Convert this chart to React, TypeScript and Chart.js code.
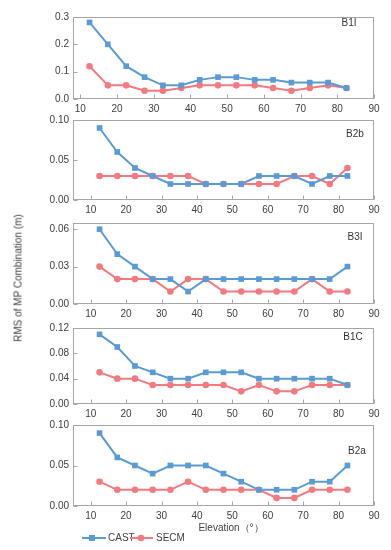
import React, { useEffect, useRef } from "react";
import { Chart, registerables } from "chart.js";

Chart.register(...registerables);

// ---------- data ----------
const elevations = [12.5, 17.5, 22.5, 27.5, 32.5, 37.5, 42.5, 47.5, 52.5, 57.5, 62.5, 67.5, 72.5, 77.5, 82.5];
const seriesNames = ["CAST", "SECM"];
const panelNames = ["B1I", "B2b", "B3I", "B1C", "B2a"];

const castB1I = [0.28, 0.2, 0.12, 0.08, 0.05, 0.05, 0.07, 0.08, 0.08, 0.07, 0.07, 0.06, 0.06, 0.06, 0.04];
const secmB1I = [0.12, 0.05, 0.05, 0.03, 0.03, 0.04, 0.05, 0.05, 0.05, 0.05, 0.04, 0.03, 0.04, 0.05, 0.04];

const castB2b = [0.09, 0.06, 0.04, 0.03, 0.02, 0.02, 0.02, 0.02, 0.02, 0.03, 0.03, 0.03, 0.02, 0.03, 0.03];
const secmB2b = [0.03, 0.03, 0.03, 0.03, 0.03, 0.03, 0.02, 0.02, 0.02, 0.02, 0.02, 0.03, 0.03, 0.02, 0.04];

const castB3I = [0.06, 0.04, 0.03, 0.02, 0.02, 0.01, 0.02, 0.02, 0.02, 0.02, 0.02, 0.02, 0.02, 0.02, 0.03];
const secmB3I = [0.03, 0.02, 0.02, 0.02, 0.01, 0.02, 0.02, 0.01, 0.01, 0.01, 0.01, 0.01, 0.02, 0.01, 0.01];

const castB1C = [0.11, 0.09, 0.06, 0.05, 0.04, 0.04, 0.05, 0.05, 0.05, 0.04, 0.04, 0.04, 0.04, 0.04, 0.03];
const secmB1C = [0.05, 0.04, 0.04, 0.03, 0.03, 0.03, 0.03, 0.03, 0.02, 0.03, 0.02, 0.02, 0.03, 0.03, 0.03];

const castB2a = [0.09, 0.06, 0.05, 0.04, 0.05, 0.05, 0.05, 0.04, 0.03, 0.02, 0.02, 0.02, 0.03, 0.03, 0.05];
const secmB2a = [0.03, 0.02, 0.02, 0.02, 0.02, 0.03, 0.02, 0.02, 0.02, 0.02, 0.01, 0.01, 0.02, 0.02, 0.02];

const castSeries = [castB1I, castB2b, castB3I, castB1C, castB2a];
const secmSeries = [secmB1I, secmB2b, secmB3I, secmB1C, secmB2a];

const yMaxes = [0.3, 0.1, 0.065, 0.12, 0.1];
const ySteps = [0.1, 0.05, 0.03, 0.04, 0.05];
const yDecimals = [1, 2, 2, 2, 2];
const xMins = [8, 5, 5, 5, 5];
const xMax = 90;
const xStep = 10;

const yTitle = "RMS of MP Combination (m)";
const xTitle = "Elevation（°）";

// ---------- style / layout ----------
const W = 391;
const H = 550;
const FONT = "'Liberation Sans', Arial, sans-serif";
const BLUE = "#5b9bd5";
const RED = "#f47a7f";
const FRAME = "#a6a6a6";
const TEXT = "#404040";
const FRAME_LEFT = 73;
const FRAME_RIGHT = 374;
const TOP_PAD = 10;

const frames = [
  { top: 17, bottom: 99, label: { dx: 25, dy: 6 } },
  { top: 120, bottom: 200, label: { dx: 19, dy: 14 } },
  { top: 223, bottom: 304, label: { dx: 19, dy: 14 } },
  { top: 328, bottom: 404, label: { dx: 21, dy: 9 } },
  { top: 425, bottom: 506, label: { dx: 17, dy: 26 } },
];

function Panel({ index }: { index: number }) {
  const ref = useRef<HTMLCanvasElement | null>(null);
  const isLast = index === frames.length - 1;
  const fr = frames[index];
  const canvasTop = fr.top - TOP_PAD;
  const xAxisH = isLast ? H - fr.bottom : 22;
  const canvasH = fr.bottom - canvasTop + xAxisH;

  useEffect(() => {
    if (!ref.current) return;
    const toPts = (arr: number[]) => arr.map((v, i) => ({ x: elevations[i], y: v }));

    const framePlugin = {
      id: "frameTicks",
      beforeDatasetsDraw(chart: any) {
        const { ctx, chartArea } = chart;
        const l = Math.round(chartArea.left) + 0.5;
        const r = Math.round(chartArea.right) - 0.5;
        const t = Math.round(chartArea.top) + 0.5;
        const b = Math.round(chartArea.bottom) - 0.5;
        ctx.save();
        ctx.strokeStyle = FRAME;
        ctx.lineWidth = 1;
        ctx.strokeRect(l, t, r - l, b - t);
        const xs = chart.scales.x;
        const ys = chart.scales.y;
        ctx.beginPath();
        xs.ticks.forEach((tk: any) => {
          const px = Math.round(xs.getPixelForValue(tk.value)) + 0.5;
          ctx.moveTo(px, b);
          ctx.lineTo(px, b - 4);
        });
        ys.ticks.forEach((tk: any) => {
          const py = Math.round(ys.getPixelForValue(tk.value)) + 0.5;
          ctx.moveTo(l, py);
          ctx.lineTo(l + 4, py);
        });
        ctx.stroke();
        ctx.restore();
      },
      afterDraw(chart: any) {
        const { ctx, chartArea } = chart;
        ctx.save();
        ctx.fillStyle = "#333";
        ctx.font = `10px ${FONT}`;
        ctx.textAlign = "center";
        ctx.textBaseline = "middle";
        ctx.fillText(panelNames[index], chartArea.right - fr.label.dx, chartArea.top + fr.label.dy);
        if (isLast) {
          // x axis title
          ctx.fillStyle = TEXT;
          ctx.fillText(xTitle, 231, 528 - canvasTop);
          // legend
          const ly = 538 - canvasTop;
          const items = [
            { name: seriesNames[0], color: BLUE, x0: 82, x1: 106, mx: 92, tx: 108, shape: "rect" },
            { name: seriesNames[1], color: RED, x0: 130, x1: 153, mx: 141, tx: 156, shape: "circle" },
          ];
          items.forEach((it) => {
            ctx.strokeStyle = it.color;
            ctx.fillStyle = it.color;
            ctx.lineWidth = 2;
            ctx.beginPath();
            ctx.moveTo(it.x0, ly);
            ctx.lineTo(it.x1, ly);
            ctx.stroke();
            if (it.shape === "rect") {
              ctx.fillRect(it.mx - 3, ly - 3, 6, 6);
            } else {
              ctx.beginPath();
              ctx.arc(it.mx, ly, 3.3, 0, Math.PI * 2);
              ctx.fill();
            }
            ctx.fillStyle = TEXT;
            ctx.textAlign = "left";
            ctx.fillText(it.name, it.tx, ly);
          });
        }
        ctx.restore();
      },
    };

    const chart = new Chart(ref.current, {
      type: "line",
      data: {
        datasets: [
          {
            label: seriesNames[0],
            data: toPts(castSeries[index]),
            borderColor: BLUE,
            backgroundColor: BLUE,
            borderWidth: 2,
            pointStyle: "rect",
            pointRadius: 4,
            pointBorderWidth: 0,
            pointBackgroundColor: BLUE,
            tension: 0,
          },
          {
            label: seriesNames[1],
            data: toPts(secmSeries[index]),
            borderColor: RED,
            backgroundColor: RED,
            borderWidth: 2,
            pointStyle: "circle",
            pointRadius: 3.3,
            pointBorderWidth: 0,
            pointBackgroundColor: RED,
            tension: 0,
          },
        ],
      },
      options: {
        animation: false,
        responsive: false,
        devicePixelRatio: 1,
        layout: { padding: { top: TOP_PAD, right: W - FRAME_RIGHT, left: 0, bottom: 0 } },
        plugins: { legend: { display: false }, tooltip: { enabled: false } },
        scales: {
          x: {
            type: "linear",
            min: xMins[index],
            max: xMax,
            grid: { display: false, drawTicks: false },
            border: { display: false },
            ticks: {
              stepSize: xStep,
              includeBounds: false,
              autoSkip: false,
              maxRotation: 0,
              padding: 4,
              color: TEXT,
              font: { family: FONT, size: 10 },
            },
            afterFit: (s: any) => {
              s.height = xAxisH;
            },
          },
          y: {
            min: 0,
            max: yMaxes[index],
            grid: { display: false, drawTicks: false },
            border: { display: false },
            ticks: {
              stepSize: ySteps[index],
              includeBounds: false,
              autoSkip: false,
              padding: 4,
              color: TEXT,
              font: { family: FONT, size: 10 },
              callback: (v: any) => Number(v).toFixed(yDecimals[index]),
            },
            afterFit: (s: any) => {
              s.width = FRAME_LEFT;
            },
          },
        },
      } as any,
      plugins: [framePlugin],
    });
    return () => chart.destroy();
  }, [index]);

  return (
    <canvas
      ref={ref}
      width={W}
      height={canvasH}
      style={{ position: "absolute", left: 0, top: canvasTop, width: W, height: canvasH }}
    />
  );
}

export default function App() {
  return (
    <div
      style={{
        position: "absolute",
        left: 0,
        top: 0,
        width: W,
        height: H,
        background: "#ffffff",
        overflow: "hidden",
      }}
    >
      {frames.map((_, i) => (
        <Panel key={i} index={i} />
      ))}
      <div
        style={{
          position: "absolute",
          left: 18,
          top: 278,
          transform: "translate(-50%, -50%) rotate(-90deg)",
          whiteSpace: "nowrap",
          font: `10px ${FONT}`,
          color: TEXT,
        }}
      >
        {yTitle}
      </div>
    </div>
  );
}
